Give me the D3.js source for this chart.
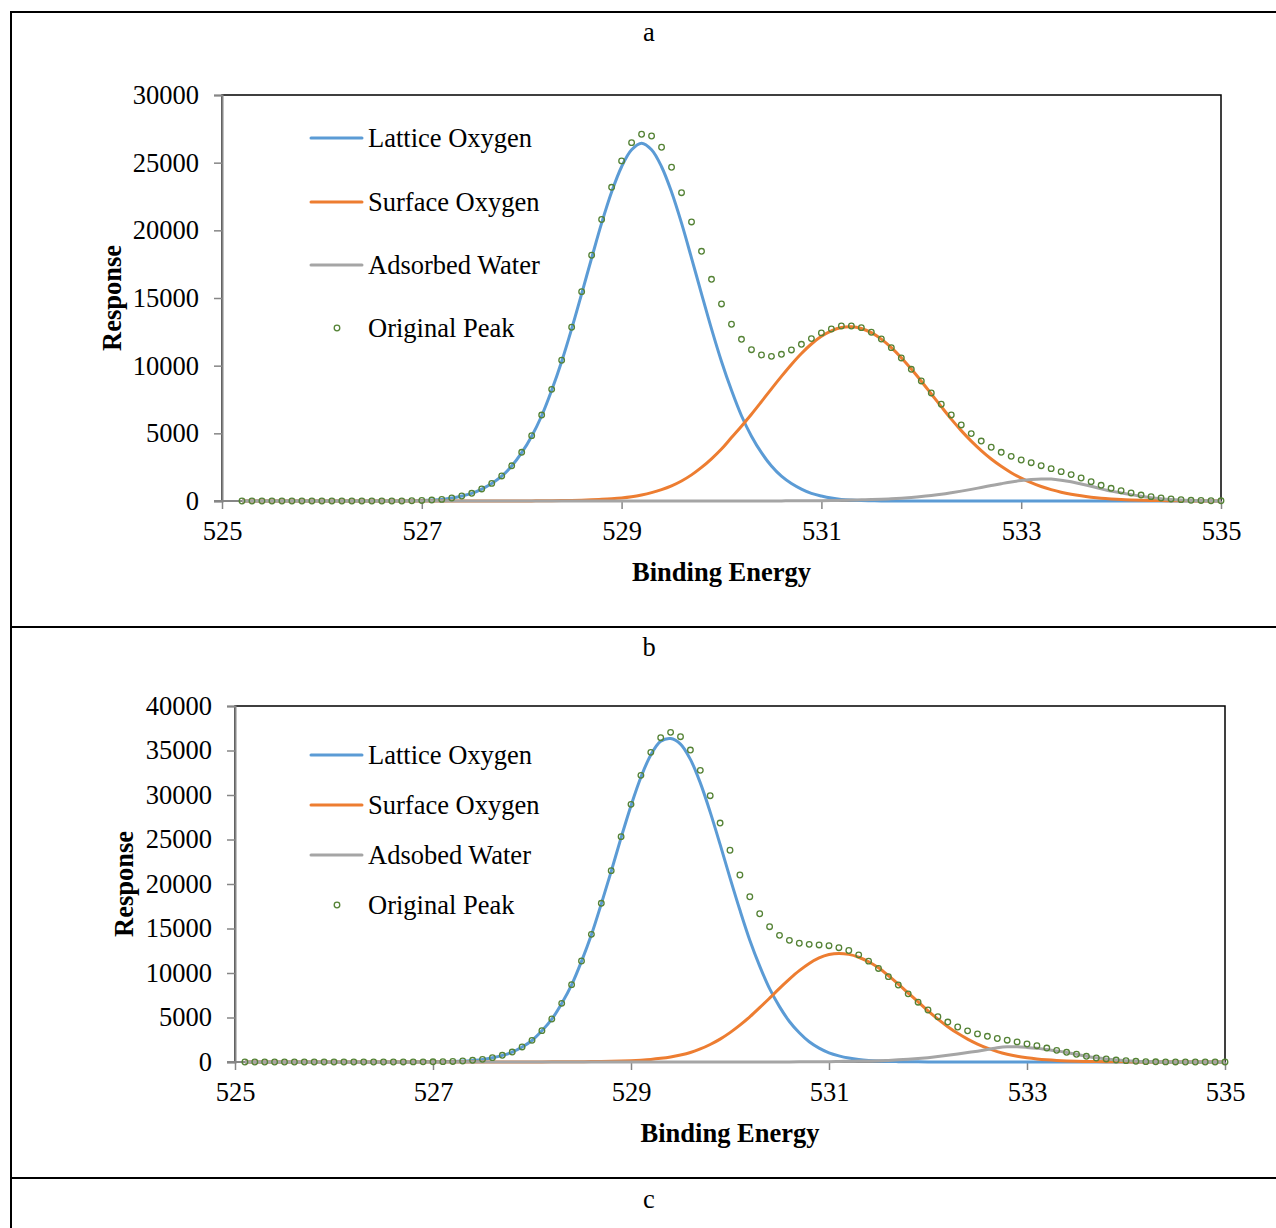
<!DOCTYPE html>
<html>
<head>
<meta charset="utf-8">
<script src="https://cdn.jsdelivr.net/npm/d3@7"></script>
<style>
  body { margin: 0; background: #fff; }
  text { font-family: "Liberation Serif", "Times New Roman", serif; fill: #000; }
</style>
</head>
<body>
<svg id="chart" width="1276" height="1228"></svg>
<script>
// binding energy grids (0.1 eV steps)
var energyA = d3.range(99).map(i => +(525.2 + i * 0.1).toFixed(1))
var energyB = d3.range(100).map(i => +(525.1 + i * 0.1).toFixed(1))

var namesA = ['Lattice Oxygen', 'Surface Oxygen', 'Adsorbed Water', 'Original Peak']
var namesB = ['Lattice Oxygen', 'Surface Oxygen', 'Adsobed Water', 'Original Peak']
var xTicks = [525, 527, 529, 531, 533, 535]

// panel a, 525.2 .. 535.0
var originalA = [
  0,0,0,0,0,0,0,0,
  0,0,0,0,0,0,0,0,0,20,
  40,70,120,220,370,570,890,1300,1850,2600,
  3600,4830,6350,8250,10400,12840,15470,18160,20800,23180,
  25130,26480,27100,26970,26140,24660,22780,20620,18450,16380,
  14560,13060,11950,11180,10790,10690,10840,11160,11580,12000,
  12420,12710,12930,12930,12810,12470,11970,11330,10570,9730,
  8870,7980,7150,6360,5620,4980,4430,3970,3600,3300,
  3030,2830,2610,2390,2170,1950,1700,1430,1160,940,
  760,590,440,320,220,150,100,50,40,20,
  15]
var latticeA = [
  0,0,0,0,0,0,0,0,
  0,0,0,0,0,0,0,0,0,20,
  40,70,120,215,365,560,880,1290,1830,2580,
  3570,4790,6300,8180,10310,12720,15310,17950,20530,22830,
  24700,25950,26440,25950,24700,22830,20530,17950,15310,12720,
  10310,8180,6300,4790,3570,2580,1830,1290,880,560,
  365,215,120,70,40,20,0,0,0,0,
  0,0,0,0,0,0,0,0,0,0,
  0,0,0,0,0,0,0,0,0,0,
  0,0,0,0,0,0,0,0,0,0,
  0]
var surfaceA = [
  0,0,0,0,0,0,0,0,
  0,0,0,0,0,0,0,0,0,0,
  0,0,0,0,0,0,0,0,0,0,
  5,8,12,18,28,42,62,90,125,170,
  230,320,450,620,840,1120,1480,1930,2480,3120,
  3840,4690,5530,6410,7340,8290,9210,10090,10900,11600,
  12170,12580,12820,12875,12750,12440,11960,11330,10590,9750,
  8850,7910,6970,6050,5200,4420,3720,3100,2560,2090,
  1690,1350,1070,840,650,500,380,285,210,155,
  110,80,58,42,30,21,15,10,7,5,
  3]
var waterA = [
  0,0,0,0,0,0,0,0,
  0,0,0,0,0,0,0,0,0,0,
  0,0,0,0,0,0,0,0,0,0,
  0,0,0,0,0,0,0,0,0,0,
  0,0,0,0,0,0,0,0,0,0,
  0,0,0,0,0,5,8,12,17,22,
  25,35,50,65,85,105,130,165,210,265,
  330,410,500,610,730,860,1000,1140,1280,1410,
  1510,1585,1630,1620,1540,1420,1260,1090,900,730,
  600,470,350,250,170,110,70,40,20,10,
  5]

// panel b, 525.1 .. 535.0
var originalB = [
  0,0,0,0,0,0,0,0,0,
  0,0,0,0,0,0,0,5,10,15,
  20,40,60,110,190,300,490,750,1120,1690,
  2430,3520,4830,6590,8690,11350,14340,17830,21500,25320,
  28950,32210,34790,36440,37040,36550,35050,32770,29920,26850,
  23790,21010,18570,16660,15200,14230,13670,13340,13220,13150,
  13070,12840,12530,12040,11330,10510,9590,8650,7660,6720,
  5840,5090,4490,3930,3500,3160,2890,2640,2450,2260,
  2020,1830,1570,1310,1090,870,640,450,340,220,
  150,80,40,20,10,5,0,0,0,0,
  0]
var latticeB = [
  0,0,0,0,0,0,0,0,0,
  0,0,0,0,0,0,0,5,10,15,
  20,40,60,100,180,290,480,740,1100,1680,
  2420,3500,4810,6570,8660,11310,14290,17770,21420,25210,
  28800,32000,34500,36030,36350,35720,34000,31360,28080,24450,
  20690,17070,13690,10780,8240,6220,4550,3280,2270,1560,
  1030,690,440,270,165,100,60,40,25,15,
  8,4,0,0,0,0,0,0,0,0,
  0,0,0,0,0,0,0,0,0,0,
  0,0,0,0,0,0,0,0,0,0,
  0]
var surfaceB = [
  0,0,0,0,0,0,0,0,0,
  0,0,0,0,0,0,0,0,0,0,
  0,0,0,0,0,0,0,0,0,5,
  10,12,15,20,25,35,45,60,80,110,
  150,210,290,410,570,790,1070,1465,1965,2570,
  3300,4140,5080,6110,7180,8270,9310,10260,11070,11690,
  12070,12200,12090,11770,11260,10580,9700,8750,7750,6750,
  5750,4820,3970,3220,2570,2010,1550,1170,870,640,
  470,340,245,175,125,90,65,45,32,22,
  15,10,7,5,3,2,1,0,0,0,
  0]
var waterB = [
  0,0,0,0,0,0,0,0,0,
  0,0,0,0,0,0,0,0,0,0,
  0,0,0,0,0,0,0,0,0,0,
  0,0,0,0,0,0,0,0,0,0,
  0,0,0,0,0,0,0,0,0,0,
  0,0,0,0,0,5,10,15,20,30,
  40,60,80,100,120,140,180,240,310,390,
  490,610,750,900,1060,1220,1400,1600,1715,1710,
  1640,1540,1400,1250,1070,860,650,470,330,220,
  140,80,45,25,12,6,0,0,0,0,
  0]

var colors = ['#5b9bd5', '#ed7d31', '#a5a5a5']
var dotColor = '#548235'
var fontSize = '26.5px'

var svg = d3.select('#chart')

// table frame round the panels
var frame = svg.append('g').attr('stroke', '#000').attr('stroke-width', 2)
;[[11, 12, 1276, 12], [11, 11, 11, 1228], [11, 627, 1276, 627], [11, 1178, 1276, 1178]]
  .forEach(d => frame.append('line').attr('x1', d[0]).attr('y1', d[1]).attr('x2', d[2]).attr('y2', d[3]))

svg.append('text').attr('x', 649).attr('y', 1199).attr('text-anchor', 'middle')
  .attr('dominant-baseline', 'central').style('font-size', fontSize).text('c')

var panels = [
  {label: 'a', labelY: 32, left: 222, right: 1221, top: 95, bottom: 501, yMax: 30000,
   energy: energyA, series: [latticeA, surfaceA, waterA], dots: originalA, names: namesA,
   legendY: [138, 202, 265, 328], respX: 112},
  {label: 'b', labelY: 647, left: 235, right: 1225, top: 706, bottom: 1062, yMax: 40000,
   energy: energyB, series: [latticeB, surfaceB, waterB], dots: originalB, names: namesB,
   legendY: [755, 805, 855, 905], respX: 124}
]

panels.forEach(p => {
  var g = svg.append('g')
  var x = d3.scaleLinear().domain([525, 535]).range([p.left, p.right])
  var y = d3.scaleLinear().domain([0, p.yMax]).range([p.bottom, p.top])

  g.append('text').attr('x', 649).attr('y', p.labelY).attr('text-anchor', 'middle')
    .attr('dominant-baseline', 'central').style('font-size', fontSize).text(p.label)

  // plot area border (top/right black)
  g.append('rect').attr('x', p.left).attr('y', p.top)
    .attr('width', p.right - p.left).attr('height', p.bottom - p.top)
    .attr('fill', 'none').attr('stroke', '#000').attr('stroke-width', 1.5)

  var yAxis = g.append('g').attr('transform', `translate(${p.left},0)`)
    .call(d3.axisLeft(y).tickValues(d3.range(0, p.yMax + 1, 5000)).tickSize(8).tickPadding(15).tickFormat(d3.format('d')))
  var xAxis = g.append('g').attr('transform', `translate(0,${p.bottom})`)
    .call(d3.axisBottom(x).tickValues(xTicks).tickSize(8).tickPadding(12).tickFormat(d3.format('d')))
  ;[yAxis, xAxis].forEach(a => {
    a.select('.domain').attr('stroke', '#868686').attr('stroke-width', 2)
    a.selectAll('.tick line').attr('stroke', '#868686').attr('stroke-width', 1.5)
    a.selectAll('.tick text').style('font-size', fontSize).style('font-family', '"Liberation Serif", "Times New Roman", serif').attr('fill', '#000')
  })
  xAxis.select('.domain').attr('d', `M${p.left - 8},0H${p.right}`)

  var line = d3.line().x((d, i) => x(p.energy[i])).y(d => y(d)).curve(d3.curveCatmullRom)
  p.series.forEach((s, k) => {
    g.append('path').datum(s).attr('d', line)
      .attr('fill', 'none').attr('stroke', colors[k]).attr('stroke-width', 3)
      .attr('stroke-linejoin', 'round')
  })

  g.selectAll('circle.dot').data(p.dots).join('circle').attr('class', 'dot')
    .attr('cx', (d, i) => x(p.energy[i])).attr('cy', d => y(d)).attr('r', 2.8)
    .attr('fill', 'none').attr('stroke', dotColor).attr('stroke-width', 1.3)

  // axis titles
  g.append('text').attr('x', (p.left + p.right) / 2).attr('y', p.bottom + 71)
    .attr('text-anchor', 'middle').attr('dominant-baseline', 'central')
    .style('font-size', fontSize).style('font-weight', 'bold').text('Binding Energy')
  g.append('text').attr('transform', `translate(${p.respX},${(p.top + p.bottom) / 2}) rotate(-90)`)
    .attr('text-anchor', 'middle').attr('dominant-baseline', 'central')
    .style('font-size', fontSize).style('font-weight', 'bold').text('Response')

  // legend
  var lg = g.append('g')
  p.names.forEach((n, k) => {
    var ly = p.legendY[k]
    if (k < 3) {
      lg.append('line').attr('x1', 311).attr('x2', 362).attr('y1', ly).attr('y2', ly)
        .attr('stroke', colors[k]).attr('stroke-width', 3).attr('stroke-linecap', 'round')
    } else {
      lg.append('circle').attr('cx', 337).attr('cy', ly).attr('r', 2.8)
        .attr('fill', 'none').attr('stroke', dotColor).attr('stroke-width', 1.3)
    }
    lg.append('text').attr('x', 368).attr('y', ly).attr('dominant-baseline', 'central')
      .style('font-size', fontSize).text(n)
  })
})
</script>
</body>
</html>
